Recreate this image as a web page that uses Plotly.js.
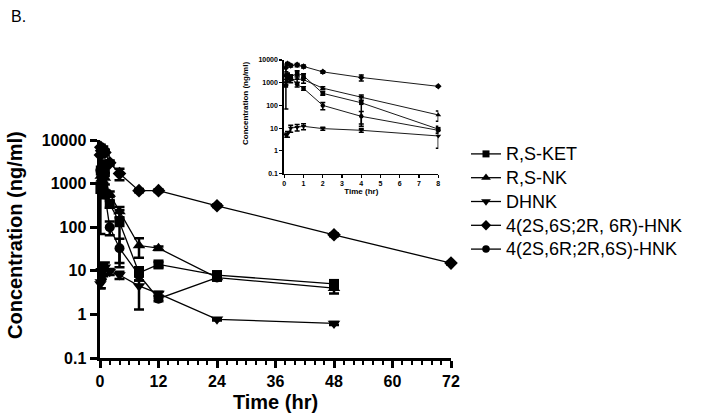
<!DOCTYPE html>
<html>
<head>
<meta charset="utf-8">
<script src="https://cdn.plot.ly/plotly-3.0.1.min.js"></script>
<style>
  html, body { margin: 0; padding: 0; background: #fff; }
  #chart { width: 701px; height: 417px; }
</style>
</head>
<body>
<div id="chart"></div>
<script>
// ---- Data ----
const seriesNames = ["R,S-KET", "R,S-NK", "DHNK", "4(2S,6S;2R, 6R)-HNK", "4(2S,6R;2R,6S)-HNK"];
const seriesSymbols = ["square", "triangle-up", "triangle-down", "diamond", "circle"];

const ketTime = [0.083, 0.167, 0.333, 0.667, 1, 2, 4, 8, 12, 24, 48];
const ketMean = [750, 2000, 1800, 2600, 2000, 340, 130, 9, 14, 8, 5];
const ketSD   = [680, 600, 400, 800, 500, 60, 115, 3, 2, 1, 1];

const nkTime = [0.083, 0.167, 0.333, 0.667, 1, 2, 4, 8, 12, 24, 48];
const nkMean = [1100, 1500, 1300, 1500, 1350, 575, 230, 38, 33, 7, 4];
const nkSD   = [300, 400, 300, 500, 400, 80, 60, 18, 3, 1, 1];

const dhnkTime = [0.083, 0.167, 0.333, 0.667, 1, 2, 4, 8, 12, 24, 48];
const dhnkMean = [5, 5.5, 10, 11, 12, 9.5, 8, 4.5, 3, 0.77, 0.62];
const dhnkSD   = [1, 1.5, 3.5, 3.5, 3.5, 1.5, 1.5, 3.2, 0.3, 0.05, 0.05];

const hnk1Time = [0.083, 0.167, 0.333, 0.667, 1, 2, 4, 8, 12, 24, 48, 72];
const hnk1Mean = [4500, 6800, 5700, 6100, 5200, 3000, 1700, 690, 690, 310, 67, 15];
const hnk1SD   = [1500, 1000, 800, 1000, 800, 400, 500, 60, 50, 20, 5, 1];

const hnk2Time = [0.083, 0.167, 0.333, 0.667, 1, 2, 4, 8, 12, 24];
const hnk2Mean = [2000, 2100, 1800, 850, 560, 100, 33, 8, 2.3, 7];
const hnk2SD   = [600, 500, 400, 200, 100, 35, 21, 2, 0.3, 1];

const logTickVals = [0.1, 1, 10, 100, 1000, 10000];
const logTickText = ["0.1", "1", "10", "100", "1000", "10000"];
const mainXTicks = [0, 12, 24, 36, 48, 60, 72];
const insetXTicks = [0, 1, 2, 3, 4, 5, 6, 7, 8];

// ---- Build traces ----
const allSeries = [
  [ketTime, ketMean, ketSD],
  [nkTime, nkMean, nkSD],
  [dhnkTime, dhnkMean, dhnkSD],
  [hnk1Time, hnk1Mean, hnk1SD],
  [hnk2Time, hnk2Mean, hnk2SD]
];
const mainSizes = [10, 11, 11, 10.5, 10];
const insetSizes = [4.5, 5, 5, 5, 4.5];
const legendSizes = [7, 8.5, 8.5, 8, 7.5];

const traces = [];
allSeries.forEach((s, i) => {
  traces.push({
    type: "scatter", mode: "lines+markers",
    name: seriesNames[i], showlegend: false,
    x: s[0], y: s[1],
    error_y: { type: "data", array: s[2], visible: true, color: "#000", thickness: 2.5, width: 5 },
    line: { color: "#000", width: 1.3 },
    marker: { symbol: seriesSymbols[i], size: mainSizes[i], color: "#000" },
    cliponaxis: false,
    xaxis: "x", yaxis: "y"
  });
});
allSeries.forEach((s, i) => {
  const xs = [], ys = [], es = [];
  s[0].forEach((t, k) => { if (t <= 8) { xs.push(t); ys.push(s[1][k]); es.push(s[2][k]); } });
  traces.push({
    type: "scatter", mode: "lines+markers",
    name: seriesNames[i], showlegend: false,
    x: xs, y: ys,
    error_y: { type: "data", array: es, visible: true, color: "#000", thickness: 1.5, width: 2.5 },
    line: { color: "#000", width: 0.9 },
    marker: { symbol: seriesSymbols[i], size: insetSizes[i], color: "#000" },
    cliponaxis: false,
    xaxis: "x2", yaxis: "y2"
  });
});
// legend entries (same styling, smaller legend markers as in the reference)
seriesNames.forEach((nm, i) => {
  traces.push({
    type: "scatter", mode: "lines+markers",
    name: '<span style="font-size:18px">' + nm + '</span>',
    showlegend: true, hoverinfo: "skip",
    x: [null], y: [null],
    line: { color: "#000", width: 1.3 },
    marker: { symbol: seriesSymbols[i], size: legendSizes[i], color: "#000" },
    xaxis: "x", yaxis: "y"
  });
});

const F = "Arial, 'Liberation Sans', Helvetica, sans-serif";
const PX = (p) => (p - 100) / 351;      // pixel x -> paper x
const PY = (p) => (358 - p) / 298;      // pixel y -> paper y

const layout = {
  width: 701, height: 417,
  margin: { l: 100, r: 250, t: 60, b: 59 },
  paper_bgcolor: "#fff", plot_bgcolor: "rgba(0,0,0,0)",
  font: { family: F, color: "#000" },
  showlegend: true,
  legend: {
    x: PX(466), y: PY(137), xanchor: "left", yanchor: "top",
    font: { family: F, size: 16, color: "#000" },
    traceorder: "normal",
    bgcolor: "rgba(0,0,0,0)", itemwidth: 30
  },
  xaxis: {
    domain: [0, 1], range: [0, 72], anchor: "y",
    tickmode: "array", tickvals: mainXTicks, ticktext: mainXTicks.map(String),
    ticks: "outside", ticklen: 7, tickwidth: 3, tickcolor: "#000",
    minor: { dtick: 2, tick0: 0, ticks: "outside", ticklen: 4, tickwidth: 2, tickcolor: "#000", showgrid: false },
    showline: true, linewidth: 3, linecolor: "#000",
    showgrid: false, zeroline: false,
    tickfont: { family: F, size: 16, weight: "bold", color: "#000" },
    title: { text: "Time (hr)", font: { family: F, size: 20, weight: "bold", color: "#000" }, standoff: 6 }
  },
  yaxis: {
    domain: [0, 218 / 298], type: "log", range: [-1, 4], anchor: "x",
    tickmode: "array", tickvals: logTickVals, ticktext: logTickText,
    ticks: "outside", ticklen: 7, tickwidth: 3, tickcolor: "#000",
    showline: true, linewidth: 3.5, linecolor: "#000",
    showgrid: false, zeroline: false,
    tickfont: { family: F, size: 16, weight: "bold", color: "#000" }
  },
  xaxis2: {
    domain: [PX(284.3), PX(438.3)], range: [0, 8], anchor: "y2",
    tickmode: "array", tickvals: insetXTicks, ticktext: insetXTicks.map(String),
    ticks: "outside", ticklen: 3, tickwidth: 1.2, tickcolor: "#000",
    showline: true, linewidth: 1.5, linecolor: "#000",
    showgrid: false, zeroline: false,
    tickfont: { family: F, size: 7, weight: "bold", color: "#000" },
    title: { text: "Time (hr)", font: { family: F, size: 8, weight: "bold", color: "#000" }, standoff: 2 }
  },
  yaxis2: {
    domain: [PY(173.5), 1], type: "log", range: [-1, 4], anchor: "x2",
    tickmode: "array", tickvals: logTickVals, ticktext: logTickText,
    ticks: "outside", ticklen: 3, tickwidth: 1.2, tickcolor: "#000",
    showline: true, linewidth: 2, linecolor: "#000",
    showgrid: false, zeroline: false,
    tickfont: { family: F, size: 7, weight: "bold", color: "#000" }
  },
  annotations: [
    { text: "B.", xref: "paper", yref: "paper", x: PX(9), y: PY(16), xanchor: "left", yanchor: "middle",
      showarrow: false, font: { family: F, size: 16, color: "#000" } },
    { text: "Concentration (ng/ml)", xref: "paper", yref: "paper", x: PX(15), y: PY(235),
      xanchor: "center", yanchor: "middle", textangle: -90, showarrow: false,
      font: { family: F, size: 20, weight: "bold", color: "#000" } },
    { text: "Concentration (ng/ml)", xref: "paper", yref: "paper", x: PX(245), y: PY(104),
      xanchor: "center", yanchor: "middle", textangle: -90, showarrow: false,
      font: { family: F, size: 8, weight: "bold", color: "#000" } }
  ]
};

Plotly.newPlot("chart", traces, layout, { displayModeBar: false, staticPlot: true });
</script>
</body>
</html>
